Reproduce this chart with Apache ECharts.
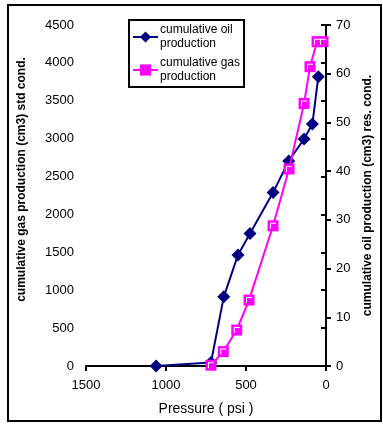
<!DOCTYPE html>
<html>
<head>
<meta charset="utf-8">
<script src="https://cdn.jsdelivr.net/npm/echarts@6/dist/echarts.min.js"></script>
<style>
  html, body { margin: 0; padding: 0; background: #fff; }
  #chart { width: 383px; height: 426px; }
</style>
</head>
<body>
<div id="chart"></div>
<script>
// oil on the right axis, gas on the left one
var oilPressure = [1062, 719, 639, 550, 475, 331, 233, 137, 85, 48];
var oilVolume = [0, 0.7, 14.2, 22.8, 27.2, 35.6, 42.1, 46.6, 49.7, 59.4];
var gasPressure = [719, 642, 558, 481, 331, 231, 137, 100, 56, 19];
var gasVolume = [10, 190, 475, 870, 1850, 2600, 3465, 3950, 4280, 4280];
var xTicks = [0, 1500, 500];
var leftTicks = [0, 4500, 500];
var rightTicks = [0, 70, 10];

function pairs(xs, ys) {
    return xs.map(function (x, i) { return [x, ys[i]]; });
}

function plain(v) {
    return String(v);
}

var font = 'Liberation Sans, Arial, sans-serif';
var chart = echarts.init(document.getElementById('chart'));

var option = {
    animation: false,
    backgroundColor: '#fff',
    textStyle: { fontFamily: font, color: '#000' },
    grid: { left: 86, right: 57, top: 25, bottom: 60 },
    graphic: [{
        type: 'rect',
        shape: { x: 8, y: 5, width: 373, height: 416 },
        style: { fill: 'none', stroke: '#000', lineWidth: 2 },
        z: 100
    }],
    legend: {
        orient: 'vertical',
        left: 129,
        top: 20,
        padding: [3, 4, 3, 3],
        itemGap: 5,
        itemWidth: 25,
        itemHeight: 14,
        borderColor: '#000',
        borderWidth: 2,
        backgroundColor: '#fff',
        data: ['cumulative oil production', 'cumulative gas production'],
        formatter: function (name) {
            return name.replace(' production', '\nproduction');
        },
        textStyle: { fontSize: 12, lineHeight: 14, color: '#000', fontFamily: font, padding: [0, 0, 0, -3] }
    },
    xAxis: {
        type: 'value',
        inverse: true,
        min: xTicks[0],
        max: xTicks[1],
        interval: xTicks[2],
        name: 'Pressure ( psi )',
        nameLocation: 'middle',
        nameGap: 36,
        nameTextStyle: { fontSize: 14, color: '#000' },
        axisLine: { onZero: false, lineStyle: { color: '#000', width: 2 } },
        axisTick: { show: true, length: 5, lineStyle: { color: '#000', width: 2 } },
        axisLabel: { fontSize: 13, color: '#000', margin: 13, formatter: plain },
        splitLine: { show: false }
    },
    yAxis: [{
        type: 'value',
        position: 'left',
        min: leftTicks[0],
        max: leftTicks[1],
        interval: leftTicks[2],
        name: 'cumulative gas production (cm3) std cond.',
        nameLocation: 'middle',
        nameRotate: 90,
        nameGap: 58,
        nameTextStyle: { fontSize: 12, fontWeight: 'bold', color: '#000', padding: [0, 0, 0, 32] },
        axisLine: { show: true, lineStyle: { color: '#000', width: 2 } },
        axisTick: { show: true, length: 5, lineStyle: { color: '#000', width: 2 } },
        axisLabel: { fontSize: 13, color: '#000', margin: 12, formatter: plain },
        splitLine: { show: false }
    }, {
        type: 'value',
        position: 'right',
        min: rightTicks[0],
        max: rightTicks[1],
        interval: rightTicks[2],
        name: 'cumulative oil production (cm3) res. cond.',
        nameLocation: 'middle',
        nameRotate: 90,
        nameGap: 36,
        nameTextStyle: { fontSize: 12, fontWeight: 'bold', color: '#000' },
        axisLine: { show: true, lineStyle: { color: '#000', width: 2 } },
        axisTick: { show: true, length: 5, lineStyle: { color: '#000', width: 2 } },
        axisLabel: { fontSize: 13, color: '#000', margin: 10, formatter: plain },
        splitLine: { show: false }
    }],
    series: [{
        name: 'cumulative oil production',
        type: 'line',
        yAxisIndex: 1,
        data: pairs(oilPressure, oilVolume),
        symbol: 'diamond',
        symbolSize: 13,
        itemStyle: { color: '#000080' },
        lineStyle: { color: '#000080', width: 2 },
        z: 3
    }, {
        name: 'cumulative gas production',
        type: 'line',
        yAxisIndex: 0,
        data: pairs(gasPressure, gasVolume),
        symbol: 'rect',
        symbolSize: 11,
        itemStyle: { color: '#ff00ff' },
        lineStyle: { color: '#ff00ff', width: 2 },
        z: 4
    }, {
        // white corner inside the square markers
        name: 'gasMarkerCorner',
        type: 'line',
        yAxisIndex: 0,
        data: pairs(gasPressure, gasVolume),
        symbol: 'path://M0,0H6V1H1V6H0Z',
        symbolSize: 6,
        showSymbol: true,
        silent: true,
        itemStyle: { color: '#fff' },
        lineStyle: { width: 0, opacity: 0 },
        z: 5
    }]
};

chart.setOption(option);
</script>
</body>
</html>
